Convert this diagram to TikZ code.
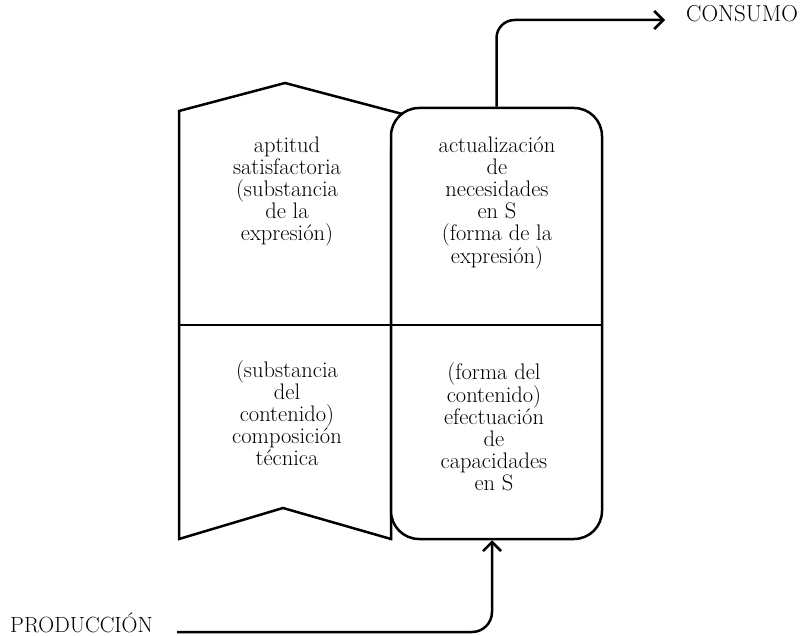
\documentclass[tikz,border=0pt]{standalone}
\usetikzlibrary{arrows.meta,calc}
\begin{document}
\begin{tikzpicture}[x=1pt,y=-1pt,
  every node/.style={font=\fontsize{22.5}{22}\selectfont},
  txt/.style={align=center,inner sep=0pt},
  lbl/.style={inner sep=0pt,anchor=base west},
  outline/.style={line width=2.5pt,line join=miter},
  arr/.style={line width=2.5pt,-{Straight Barb[length=9pt,width=18pt]}}]
\useasboundingbox (0,0) rectangle (804,636);
% left pentagon shape
\draw[outline] (179,111) -- (285,83) -- (430,121.3) -- (391,150) -- (391,539)
  -- (283,508) -- (179,539) -- cycle;
% rounded box
\node[outline,draw,fill=white,rounded corners=28pt,minimum width=211pt,
  minimum height=431pt,inner sep=0pt] (box) at (496.5,323.5) {};
% divider
\coordinate (divl) at (179,325);
\draw[outline] (divl) -- (divl -| box.east);
% texts
\node[txt] (tl) at (287,192) {aptitud\\satisfactoria\\(substancia\\de la\\expresión)};
\node[txt] (tr) at (497,203) {actualización\\de\\necesidades\\en S\\(forma de la\\expresión)};
\node[txt] (bl) at (287,413) {(substancia\\del\\contenido)\\composición\\técnica};
\node[txt] (br) at (494,427) {(forma del\\contenido)\\efectuación\\de\\capacidades\\en S};
% labels
\node[lbl,font=\fontsize{23}{24}\selectfont] (consumo) at (686,22) {CONSUMO};
\node[lbl,font=\fontsize{22}{24}\selectfont] (produccion) at (10,632) {PRODUCCIÓN};
% connectors
\coordinate (ctip) at (665,20);
\draw[arr,rounded corners=18pt] (box.north) |- (ctip);
\coordinate (pstart) at (177,632);
\coordinate (ptip) at ([xshift=-4.5pt]box.south);
\draw[arr,rounded corners=20pt] (pstart) -| (ptip);
\end{tikzpicture}
\end{document}
